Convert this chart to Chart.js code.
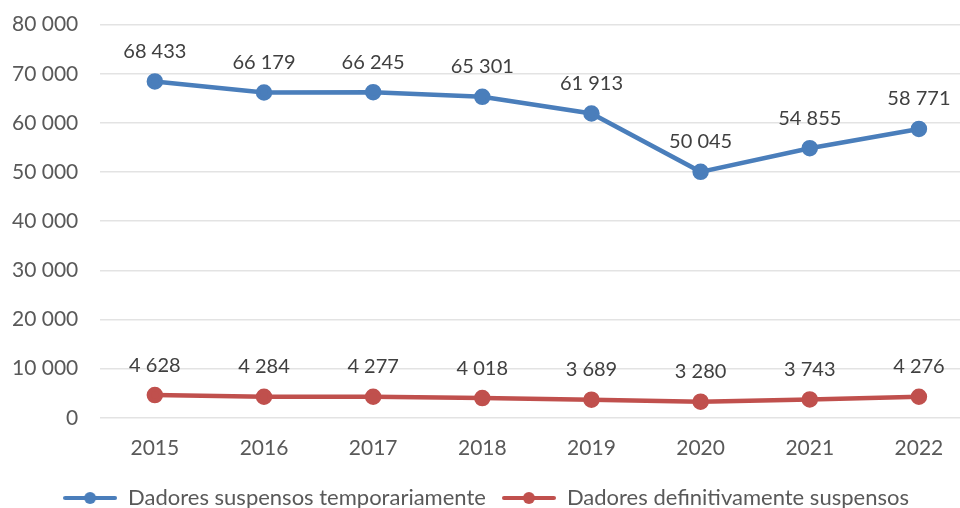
<!DOCTYPE html>
<html>
<head>
<meta charset="utf-8">
<script src="https://cdn.jsdelivr.net/npm/chart.js@4"></script>
<style>
  html, body { margin: 0; padding: 0; background: #fff; overflow: hidden; width: 960px; height: 508px; }
  #wrap { position: absolute; left: -22px; top: -10px; width: 1006px; height: 529px; }
</style>
</head>
<body>
<div id="wrap"><canvas id="chart"></canvas></div>
<script>
// dados
const anos = ['2015', '2016', '2017', '2018', '2019', '2020', '2021', '2022'];
const temporarios = [68433, 66179, 66245, 65301, 61913, 50045, 54855, 58771];
const definitivos = [4628, 4284, 4277, 4018, 3689, 3280, 3743, 4276];
const yTicks = [0, 10000, 20000, 30000, 40000, 50000, 60000, 70000, 80000];

const AZUL = '#4a7ebb';
const VERMELHO = '#c0504d';
const FONTE = 'Lato, "Open Sans", sans-serif';

const fmt = v => String(v).replace(/\B(?=(\d{3})+(?!\d))/g, ' ');

// marcador da legenda: linha com ponto
function legendIcon(color) {
    const c = document.createElement('canvas');
    c.width = 54; c.height = 14;
    const g = c.getContext('2d');
    g.strokeStyle = color;
    g.lineWidth = 4;
    g.lineCap = 'round';
    g.beginPath(); g.moveTo(2, 7); g.lineTo(52, 7); g.stroke();
    g.fillStyle = color;
    g.beginPath(); g.arc(27, 7, 6, 0, Math.PI * 2); g.fill();
    return c;
}

// rótulos de valores por cima dos pontos
const valueLabels = {
    id: 'valueLabels',
    afterDatasetsDraw(chart) {
        const ctx = chart.ctx;
        ctx.save();
        ctx.font = '20px ' + FONTE;
        ctx.fillStyle = '#404040';
        ctx.textAlign = 'center';
        ctx.textBaseline = 'middle';
        chart.data.datasets.forEach((ds, i) => {
            chart.getDatasetMeta(i).data.forEach((pt, j) => {
                ctx.fillText(fmt(ds.data[j]), pt.x, pt.y - 30);
            });
        });
        ctx.restore();
    }
};

new Chart(document.getElementById('chart'), {
    type: 'line',
    data: {
        labels: anos,
        datasets: [{
            label: 'Dadores suspensos temporariamente',
            data: temporarios,
            borderColor: AZUL,
            backgroundColor: AZUL,
            borderWidth: 4.5,
            pointRadius: 6,
            tension: 0
        }, {
            label: 'Dadores definitivamente suspensos',
            data: definitivos,
            borderColor: VERMELHO,
            backgroundColor: VERMELHO,
            borderWidth: 4.5,
            pointRadius: 6,
            tension: 0
        }]
    },
    options: {
        responsive: true,
        maintainAspectRatio: false,
        animation: false,
        layout: { padding: { left: 12, right: 2, top: 2, bottom: 0 } },
        scales: {
            x: {
                offset: true,
                grid: { display: false },
                border: { display: false },
                ticks: { color: '#595959', font: { family: FONTE, size: 21 }, padding: 10 }
            },
            y: {
                min: 0,
                max: 80000,
                afterBuildTicks(axis) { axis.ticks = yTicks.map(v => ({ value: v })); },
                grid: { color: '#e3e3e3', lineWidth: 1.5, drawTicks: false },
                border: { display: false },
                ticks: {
                    color: '#595959',
                    font: { family: FONTE, size: 21 },
                    padding: 22,
                    callback: v => fmt(v)
                }
            }
        },
        plugins: {
            legend: {
                position: 'bottom',
                labels: {
                    usePointStyle: true,
                    pointStyleWidth: 54,
                    boxHeight: 14,
                    padding: 16,
                    color: '#595959',
                    font: { family: FONTE, size: 22 },
                    generateLabels(chart) {
                        return chart.data.datasets.map((ds, i) => ({
                            text: ds.label,
                            pointStyle: legendIcon(ds.borderColor),
                            fillStyle: ds.borderColor,
                            strokeStyle: ds.borderColor,
                            lineWidth: 0,
                            fontColor: '#595959',
                            datasetIndex: i,
                            hidden: false
                        }));
                    }
                }
            },
            tooltip: { enabled: false }
        }
    },
    plugins: [valueLabels]
});
</script>
</body>
</html>
